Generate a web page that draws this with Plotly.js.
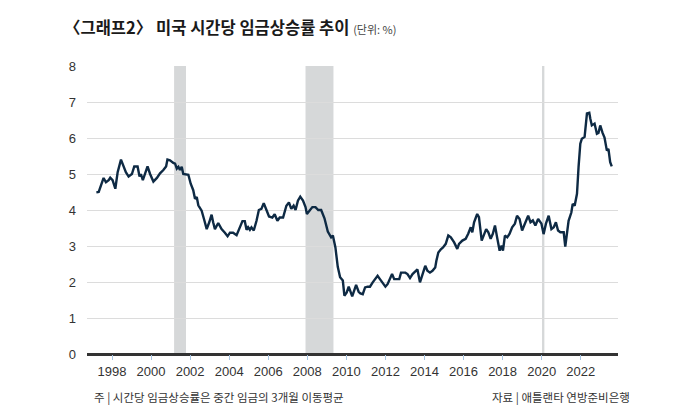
<!DOCTYPE html>
<html>
<head>
<meta charset="utf-8">
<script src="https://cdn.plot.ly/plotly-3.0.1.min.js"></script>
<style>
  html, body { margin: 0; padding: 0; background: #fff; }
  #chart { width: 700px; height: 420px; }
</style>
</head>
<body>
<div id="chart"></div>
<script>
// 시간당 임금상승률 (3개월 이동평균, %), x = 연도(소수)
var years = [
  1997.20, 1997.32, 1997.49, 1997.57, 1997.69, 1997.83, 1997.91, 1998.03, 1998.17, 1998.29,
  1998.46, 1998.59, 1998.71, 1998.85, 1999.02, 1999.14, 1999.31, 1999.41, 1999.48, 1999.58,
  1999.70, 1999.82, 1999.95, 2000.12, 2000.30, 2000.46, 2000.63, 2000.77, 2000.84, 2000.97,
  2001.14, 2001.23, 2001.32, 2001.40, 2001.48, 2001.57, 2001.65, 2001.91, 2002.03, 2002.16,
  2002.25, 2002.34, 2002.42, 2002.59, 2002.71, 2002.85, 2002.98, 2003.10, 2003.18, 2003.27,
  2003.44, 2003.61, 2003.78, 2003.92, 2004.04, 2004.20, 2004.38, 2004.55, 2004.68, 2004.80,
  2004.89, 2004.97, 2005.06, 2005.14, 2005.26, 2005.40, 2005.52, 2005.65, 2005.77, 2005.91,
  2006.04, 2006.21, 2006.33, 2006.47, 2006.59, 2006.76, 2006.93, 2007.06, 2007.18, 2007.30,
  2007.40, 2007.52, 2007.64, 2007.78, 2007.91, 2007.98, 2008.12, 2008.26, 2008.42, 2008.56,
  2008.71, 2008.88, 2009.05, 2009.22, 2009.31, 2009.44, 2009.56, 2009.68, 2009.82, 2009.90,
  2010.02, 2010.12, 2010.30, 2010.40, 2010.50, 2010.63, 2010.72, 2010.84, 2010.96, 2011.09,
  2011.21, 2011.35, 2011.48, 2011.60, 2011.72, 2011.86, 2012.00, 2012.11, 2012.23, 2012.34,
  2012.45, 2012.54, 2012.71, 2012.80, 2013.02, 2013.13, 2013.26, 2013.39, 2013.53, 2013.64,
  2013.77, 2013.90, 2014.04, 2014.15, 2014.28, 2014.41, 2014.55, 2014.61, 2014.71, 2014.84,
  2014.95, 2015.09, 2015.22, 2015.35, 2015.52, 2015.68, 2015.77, 2015.94, 2016.11, 2016.24,
  2016.37, 2016.45, 2016.54, 2016.70, 2016.79, 2016.93, 2017.05, 2017.16, 2017.27, 2017.39,
  2017.50, 2017.61, 2017.72, 2017.85, 2017.95, 2018.02, 2018.12, 2018.24, 2018.36, 2018.49,
  2018.63, 2018.74, 2018.87, 2019.00, 2019.14, 2019.31, 2019.43, 2019.55, 2019.68, 2019.82,
  2019.99, 2020.10, 2020.22, 2020.36, 2020.50, 2020.62, 2020.73, 2020.84, 2020.96, 2021.13,
  2021.21, 2021.38, 2021.52, 2021.59, 2021.69, 2021.81, 2021.89, 2021.98, 2022.06, 2022.20,
  2022.32, 2022.44, 2022.49, 2022.57, 2022.71, 2022.83, 2022.91, 2023.00, 2023.12, 2023.22,
  2023.34, 2023.42, 2023.51, 2023.59
];
var wageGrowth = [
  4.49, 4.50, 4.77, 4.89, 4.77, 4.83, 4.90, 4.83, 4.59, 5.05,
  5.40, 5.24, 5.05, 4.93, 5.00, 5.21, 5.21, 4.93, 5.00, 4.83,
  5.05, 5.21, 5.00, 4.79, 4.89, 5.02, 5.11, 5.21, 5.40, 5.38,
  5.31, 5.29, 5.15, 5.20, 5.11, 5.20, 5.00, 4.98, 4.73, 4.55,
  4.31, 4.36, 4.13, 3.98, 3.75, 3.47, 3.66, 3.87, 3.66, 3.47,
  3.64, 3.47, 3.37, 3.27, 3.37, 3.37, 3.30, 3.50, 3.69, 3.69,
  3.45, 3.52, 3.45, 3.52, 3.43, 3.70, 4.00, 4.03, 4.19, 4.00,
  3.82, 3.79, 3.88, 3.70, 3.79, 3.79, 4.12, 4.21, 4.03, 4.12,
  4.00, 4.26, 4.37, 4.26, 4.08, 3.89, 4.00, 4.08, 4.08, 4.00,
  4.00, 3.77, 3.40, 3.24, 3.29, 2.96, 2.42, 2.13, 2.04, 1.62,
  1.71, 1.87, 1.60, 1.78, 1.92, 1.73, 1.68, 1.66, 1.85, 1.87,
  1.87, 1.99, 2.08, 2.17, 2.08, 1.99, 1.87, 1.94, 2.08, 2.22,
  2.08, 2.08, 2.08, 2.26, 2.26, 2.22, 2.11, 2.22, 2.31, 2.35,
  1.99, 2.22, 2.45, 2.31, 2.26, 2.31, 2.40, 2.59, 2.82, 2.91,
  2.96, 3.06, 3.29, 3.24, 3.10, 2.92, 3.06, 3.15, 3.20, 3.34,
  3.52, 3.38, 3.66, 3.89, 3.80, 3.15, 3.34, 3.47, 3.38, 3.20,
  3.34, 3.57, 3.24, 2.87, 3.01, 2.87, 3.29, 3.24, 3.34, 3.52,
  3.62, 3.84, 3.75, 3.43, 3.62, 3.84, 3.66, 3.71, 3.57, 3.75,
  3.62, 3.33, 3.62, 3.84, 3.47, 3.52, 3.66, 3.43, 3.38, 3.38,
  2.98, 3.70, 3.93, 4.17, 4.12, 4.45, 5.19, 5.84, 5.98, 6.03,
  6.68, 6.70, 6.54, 6.35, 6.40, 6.12, 6.14, 6.35, 6.14, 6.01,
  5.65, 5.70, 5.33, 5.21
];
// 경기침체 기간 (음영)
var recessionStart = [2001.18, 2007.91, 2020.02];
var recessionEnd = [2001.79, 2009.34, 2020.14];
var xTicks = [1998, 2000, 2002, 2004, 2006, 2008, 2010, 2012, 2014, 2016, 2018, 2020, 2022];
var yTicks = [0, 1, 2, 3, 4, 5, 6, 7, 8];

var shapes = recessionStart.map(function(s, i) {
  return {
    type: 'rect', xref: 'x', yref: 'paper',
    x0: s, x1: recessionEnd[i], y0: 0, y1: 1,
    fillcolor: '#d6d8d9', line: { width: 0 }, layer: 'below'
  };
});

var data = [{
  x: years,
  y: wageGrowth,
  mode: 'lines',
  line: { color: '#0e2a44', width: 2.4 },
  hoverinfo: 'x+y'
}];

var layout = {
  width: 700,
  height: 420,
  margin: { l: 87, r: 82, t: 66, b: 66 },
  paper_bgcolor: '#fff',
  plot_bgcolor: '#fff',
  showlegend: false,
  font: { family: 'Liberation Sans, Arial, sans-serif', color: '#333' },
  title: {
    text: '<b>〈그래프2〉 미국 시간당 임금상승률 추이</b> <span style="font-size:11px;font-weight:normal;color:#444">(단위: %)</span>',
    font: { family: 'Noto Sans CJK KR, sans-serif', size: 16.5, color: '#1a1a1a' },
    xref: 'container', yref: 'container',
    x: 64 / 700, xanchor: 'left',
    y: 1 - 28 / 420, yanchor: 'middle'
  },
  xaxis: {
    range: [1996.72, 2023.91],
    tickvals: xTicks,
    ticktext: xTicks.map(String),
    ticks: 'outside',
    ticklen: 5,
    tickwidth: 1,
    tickcolor: '#a9c6e2',
    ticklabelstandoff: 0,
    tickfont: { family: 'Liberation Sans Narrow, Arial Narrow, sans-serif', size: 13, color: '#333' },
    showgrid: false,
    zeroline: false,
    showline: false,
    fixedrange: true
  },
  yaxis: {
    range: [0, 8],
    tickvals: yTicks,
    ticks: '',
    ticklabelstandoff: 10,
    tickfont: { family: 'Liberation Sans, Arial, sans-serif', size: 13, color: '#333' },
    showgrid: true,
    gridcolor: '#dcdcdc',
    gridwidth: 1,
    zeroline: true,
    zerolinecolor: '#333',
    zerolinewidth: 3,
    showline: false,
    fixedrange: true
  },
  shapes: shapes,
  annotations: [{
    text: '주 | 시간당 임금상승률은 중간 임금의 3개월 이동평균',
    xref: 'paper', yref: 'paper',
    x: (92 - 87) / 531, xanchor: 'left',
    y: -(397 - 354) / 288, yanchor: 'middle',
    showarrow: false,
    font: { family: 'Noto Sans CJK KR, sans-serif', size: 11.5, color: '#333' }
  }, {
    text: '자료 | 애틀랜타 연방준비은행',
    xref: 'paper', yref: 'paper',
    x: (632 - 87) / 531, xanchor: 'right',
    y: -(397 - 354) / 288, yanchor: 'middle',
    showarrow: false,
    font: { family: 'Noto Sans CJK KR, sans-serif', size: 11.5, color: '#333' }
  }]
};

Plotly.newPlot('chart', data, layout, { displayModeBar: false, staticPlot: true });
</script>
</body>
</html>
